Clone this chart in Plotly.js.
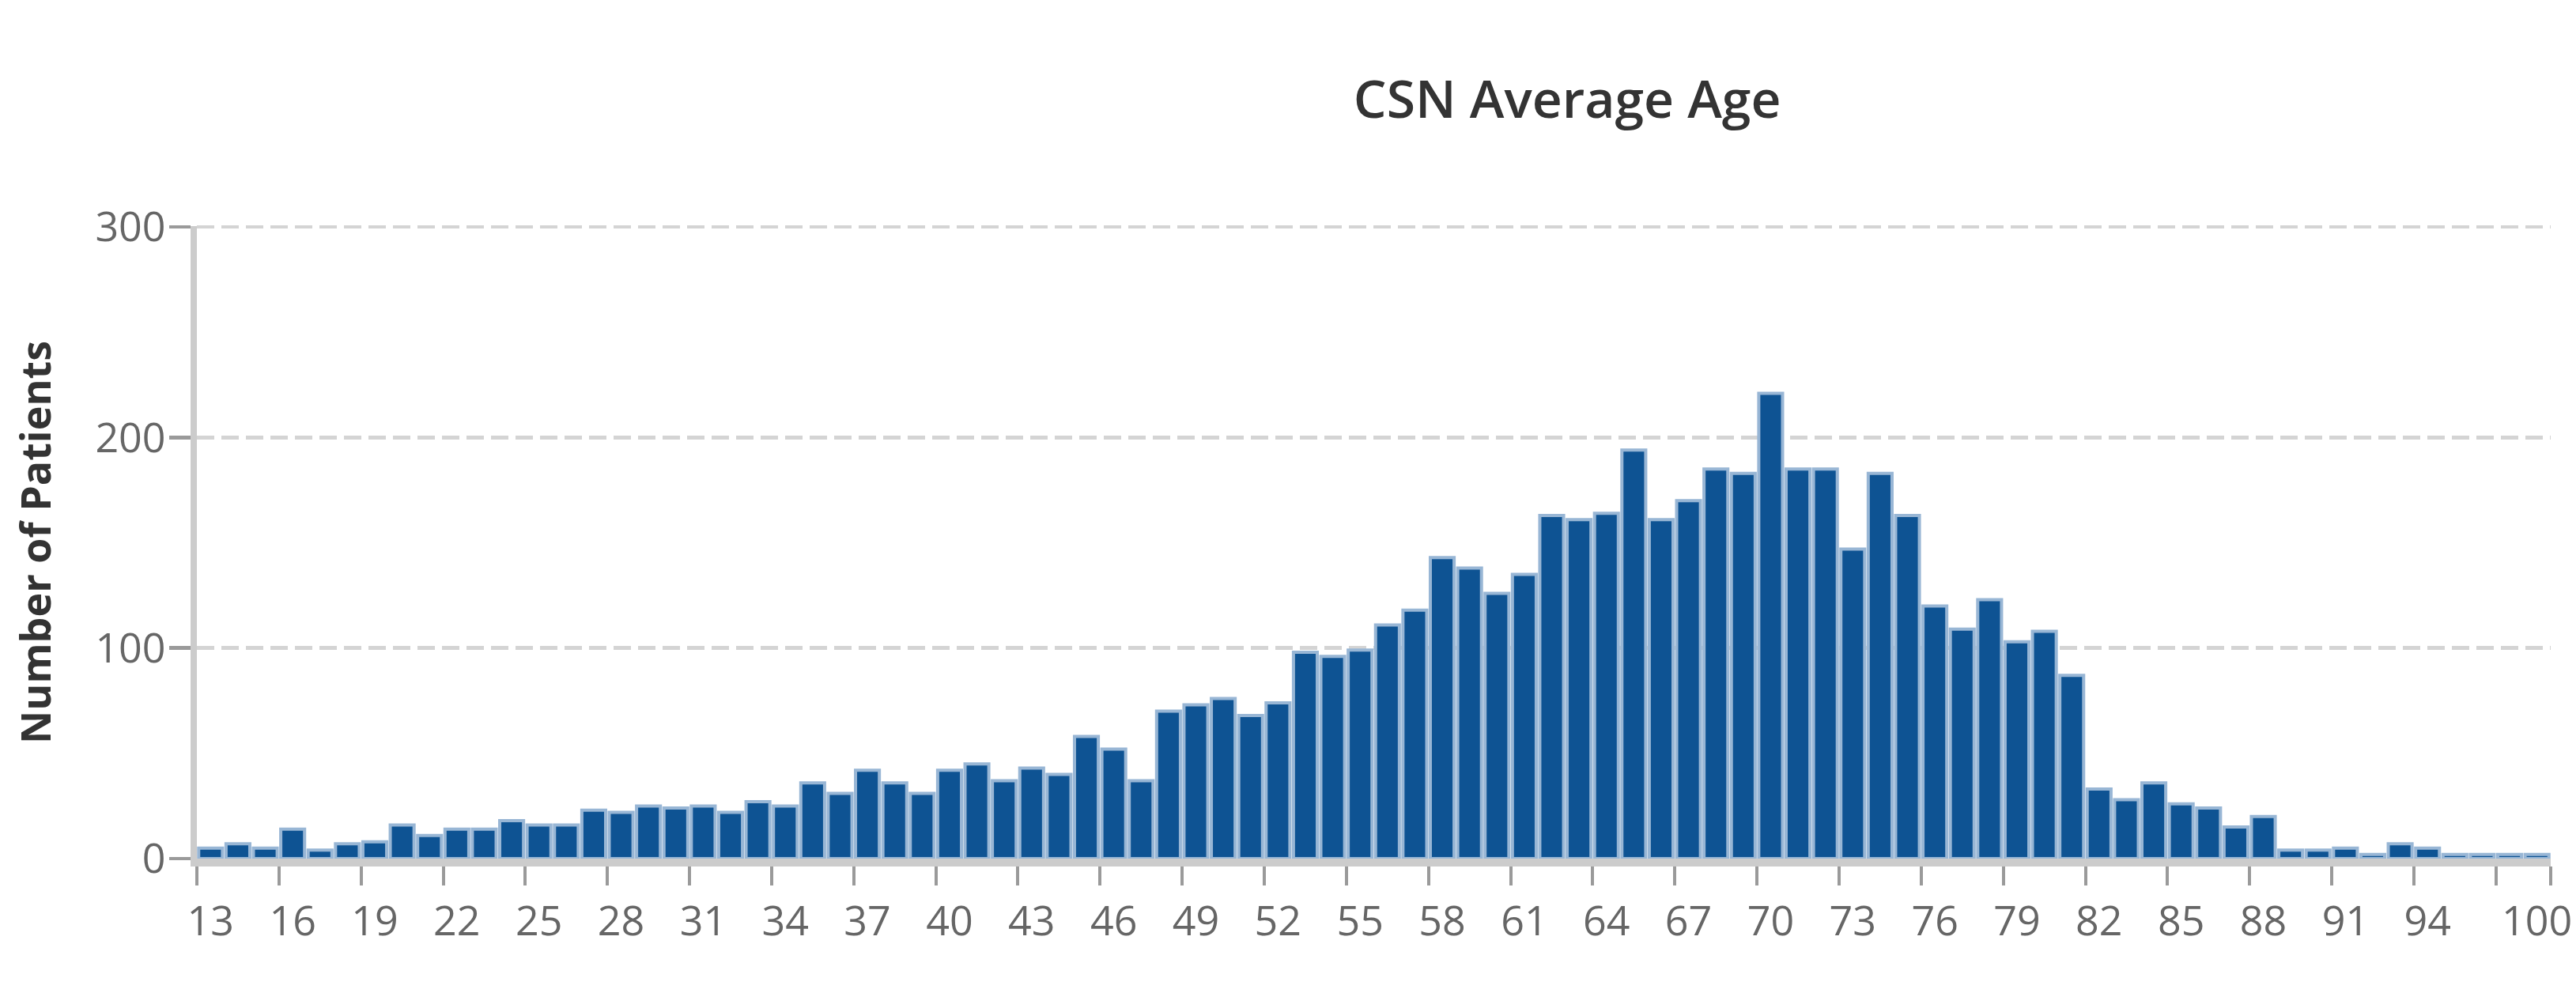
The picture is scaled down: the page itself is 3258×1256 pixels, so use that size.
<!DOCTYPE html>
<html>
<head>
<meta charset="utf-8">
<script src="https://cdn.plot.ly/plotly-3.0.1.min.js"></script>
<style>
html, body { margin: 0; padding: 0; background: #ffffff; }
#chart { width: 3258px; height: 1256px; }
</style>
</head>
<body>
<div id="chart"></div>
<script>
// ---- data ----
const ages = [13,14,15,16,17,18,19,20,21,22,23,24,25,26,27,28,29,30,31,32,33,34,35,36,37,38,39,40,
  41,42,43,44,45,46,47,48,49,50,51,52,53,54,55,56,57,58,59,60,61,62,63,64,65,66,67,68,69,70,
  71,72,73,74,75,76,77,78,79,80,81,82,83,84,85,86,87,88,89,90,91,92,93,94,95,96,97,100];
const patients = [5,7,5,14,4,7,8,16,11,14,14,18,16,16,23,22,25,24,25,22,27,25,36,31,42,36,31,42,
  45,37,43,40,58,52,37,70,73,76,68,74,98,96,99,111,118,143,138,126,135,163,161,164,194,161,170,185,183,221,
  185,185,147,183,163,120,109,123,103,108,87,33,28,36,26,24,15,20,4,4,5,2,7,5,2,2,2,2];
const yTickValues = [0, 100, 200, 300];
const labelStep = 3;
const chartTitle = 'CSN Average Age';
const xTitle = 'Age';
const yTitle = 'Number of Patients';

// ---- derived axis helpers ----
const cats = ages.map(String);
const n = cats.length;
const labelIdx = [];
for (let i = 0; i < n; i += labelStep) {
  if (n - 1 - i >= labelStep) labelIdx.push(i);
}
labelIdx.push(n - 1);
const tickLabelVals = labelIdx.map(i => cats[i]);
const boundaryTicks = [];
for (let i = 0; i < n; i += labelStep) boundaryTicks.push(i - 0.5);
boundaryTicks.push(n - 0.5);

const FONT = 'Open Sans, Noto Sans, DejaVu Sans, sans-serif';

const traces = [
  {
    type: 'bar',
    x: cats,
    y: patients,
    marker: { color: '#0e5393', line: { color: '#98b6d5', width: 4 } },
    hoverinfo: 'x+y',
    showlegend: false
  },
  {
    type: 'scatter', mode: 'markers',
    x: [], y: [],
    xaxis: 'x2', yaxis: 'y',
    showlegend: false, hoverinfo: 'skip'
  }
];

const layout = {
  width: 3258, height: 1256,
  paper_bgcolor: '#ffffff', plot_bgcolor: '#ffffff',
  margin: { l: 249, r: 32, t: 286, b: 170, pad: 0 },
  bargap: 0.13,
  font: { family: FONT, color: '#666666' },
  title: {
    text: chartTitle,
    font: { family: FONT, size: 66, weight: 600, color: '#333333' },
    xref: 'container', x: 0.6084, xanchor: 'center',
    yref: 'container', y: 0.90, yanchor: 'middle'
  },
  annotations: [
    {
      text: xTitle,
      xref: 'paper', x: 0.5, xanchor: 'center',
      yref: 'paper', y: -0.186, yanchor: 'top',
      showarrow: false,
      font: { family: FONT, size: 52, weight: 700, color: '#333333' }
    }
  ],
  xaxis: {
    type: 'category',
    range: [-0.5, n - 0.5],
    tickmode: 'array',
    tickvals: tickLabelVals,
    ticktext: tickLabelVals,
    ticks: '',
    showline: false,
    showgrid: false,
    zeroline: false,
    tickfont: { family: FONT, size: 52, color: '#666666' },
    ticklabelstandoff: 44,
    fixedrange: true
  },
  xaxis2: {
    type: 'linear',
    overlaying: 'x',
    anchor: 'y',
    side: 'bottom',
    range: [-0.5, n - 0.5],
    tickmode: 'array',
    tickvals: boundaryTicks,
    ticks: 'outside',
    ticklen: 24,
    tickwidth: 4,
    tickcolor: '#9a9a9a',
    showticklabels: false,
    showline: true,
    linecolor: '#cccccc',
    linewidth: 10,
    showgrid: false,
    zeroline: false,
    fixedrange: true
  },
  yaxis: {
    range: [0, 300.4],
    tickmode: 'array',
    tickvals: yTickValues,
    ticks: 'outside',
    ticklen: 27,
    tickwidth: 4.5,
    tickcolor: '#9a9a9a',
    showline: true,
    linecolor: '#cccccc',
    linewidth: 8,
    showgrid: true,
    gridcolor: '#d4d4d4',
    gridwidth: 4.5,
    griddash: '22px,9px',
    zeroline: false,
    tickfont: { family: FONT, size: 52, color: '#666666' },
    ticklabelstandoff: -6,
    title: { text: yTitle, font: { family: FONT, size: 52, weight: 700, color: '#333333' }, standoff: 42 },
    fixedrange: true
  }
};

Plotly.newPlot('chart', traces, layout, { displayModeBar: false, staticPlot: true });
</script>
</body>
</html>
